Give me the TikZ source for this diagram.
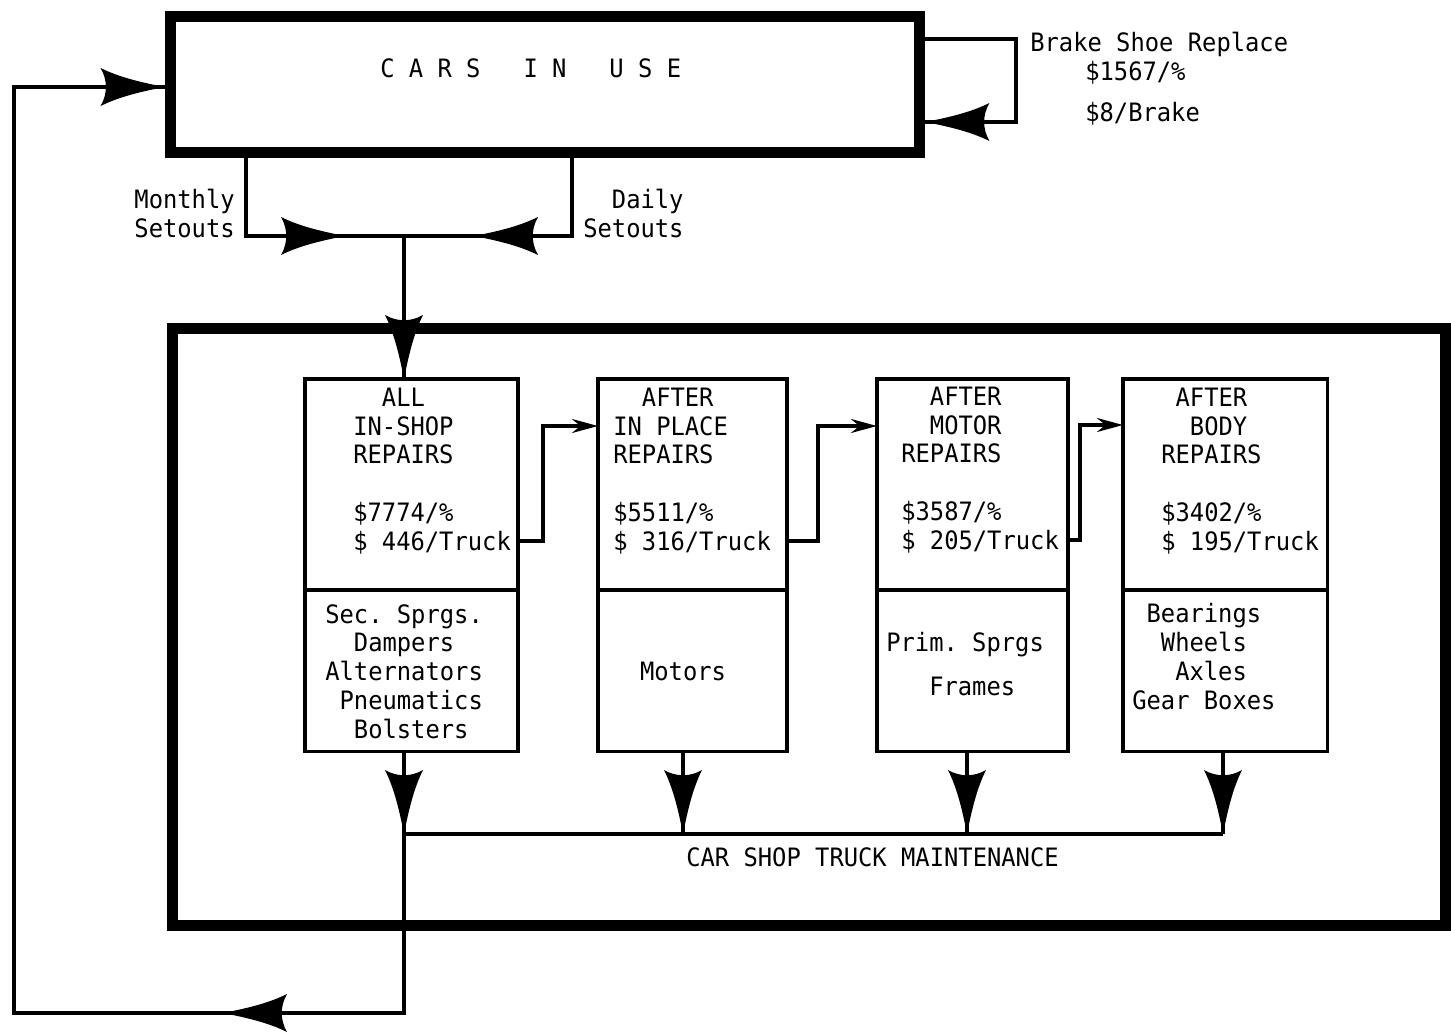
\documentclass[tikz,border=0pt]{standalone}
\usepackage{fontspec}
\setmainfont{DejaVu Sans Mono}[FakeStretch=0.94]
\usetikzlibrary{arrows.meta, positioning, decorations.markings}
\frenchspacing
\newcommand\finhead{\fill (0,0) .. controls (-20,4) and (-44,9) .. (-64,19) .. controls (-57,7) and (-57,-7) .. (-64,-19) .. controls (-44,-9) and (-20,-4) .. cycle;}

\begin{document}
\begin{tikzpicture}[x=0.025cm, y=-0.025cm, font=\fontsize{18pt}{20.4pt}\selectfont,
   >={Stealth[length=0.65cm, width=0.35cm]}, node distance=0pt,
   flow/.style={line width=2.2pt},
   heavy/.style={draw, line width=7.8pt, inner sep=0},
   part/.style={draw, line width=2.2pt, inner sep=0, outer sep=0, minimum height=5.275cm},
   lbl/.style={inner sep=0, anchor=base west, align=left},
   fin/.style={decoration={markings, mark=at position #1 with {\finhead}}, postaction={decorate}}]
\useasboundingbox (0,0) rectangle (1451,1032);
\node[heavy, minimum width=18.74cm, minimum height=3.375cm] (cars) at (545,84.5) {};
\node[heavy, minimum width=31.8cm, minimum height=14.9cm] (shop) at (809,627) {};
\node[lbl] (carstxt) at (380,77) {C~A~R~S~~~I~N~~~U~S~E};
\foreach \n/\x/\w in {b1/411.5/5.325, b2/692.5/4.725, b3/972.5/4.775, b4/1225/5.1} {
  \node[part, minimum width=\w cm] (\n) at (\x,484.5) {};
  \node[part, minimum width=\w cm, minimum height=4.025cm, below=of \n] (\n-low) {};
}
\node[lbl] (b1txt) at (353,550) {~~ALL\\IN-SHOP\\REPAIRS\\~\\\$7774/\%\\\$ 446/Truck};
\node[lbl] (b1list) at (325,738) {Sec. Sprgs.\\~~Dampers\\Alternators\\~Pneumatics\\~~Bolsters};
\node[lbl] (b2txt) at (613,550) {~~AFTER\\IN PLACE\\REPAIRS\\~\\\$5511/\%\\\$ 316/Truck};
\node[lbl, anchor=base] (b2list) at (683,680) {Motors};
\node[lbl] (b3txt) at (901,549) {~~AFTER\\~~MOTOR\\REPAIRS\\~\\\$3587/\%\\\$ 205/Truck};
\node[lbl] (b3list) at (886,695) {Prim. Sprgs\\[3.6mm]~~~Frames};
\node[lbl] (b4txt) at (1161,550) {~AFTER\\~~BODY\\REPAIRS\\~\\\$3402/\%\\\$ 195/Truck};
\node[lbl] (b4list) at (1132,709) {~Bearings\\~~Wheels\\~~~Axles\\Gear Boxes};
\node[lbl, anchor=base east, align=right] (monthly) at (235,237) {Monthly\\Setouts};
\node[lbl] (daily) at (583,237) {~~Daily\\Setouts};
\node[lbl] (brake) at (1030,51) {Brake Shoe Replace};
\node[lbl] (brakecost) at (1085,121) {\$1567/\%\\[0.3cm]\$8/Brake};
\node[lbl] (maint) at (686,866) {CAR SHOP TRUCK MAINTENANCE};
\coordinate (btop) at (1016,39);
\coordinate (bbot) at (1016,122);
\coordinate (sjn) at (404,236);
\coordinate (mtip) at (345,236);
\coordinate (dtip) at (474,236);
\coordinate (mjn) at (404,834);
\coordinate (m2) at (683,834);
\coordinate (m3) at (967,834);
\coordinate (mend) at (1223,834);
\coordinate (rtip) at (223,1013);
\coordinate (rtop) at (14,87);
\draw[flow, fin=1] (cars.east |- btop) -- (btop) -- (bbot) -- (cars.east |- bbot);
\draw[flow, fin=1] (cars.south -| 246,0) |- (mtip);
\draw[flow, fin=1] (cars.south -| 572,0) |- (dtip);
\draw[flow] (mtip) -- (dtip);
\draw[flow, fin=1] (sjn) -- (b1.north -| sjn);
\foreach \a/\b/\j/\y/\z in {b1/b2/25/541/426, b2/b3/31/541/426, b3/b4/12/540/425}
  \draw[flow, ->] (\a.east |- 0,\y) -- ++(\j,0) |- (\b.west |- 0,\z);
\draw[flow] (mjn) -- (mend);
\foreach \b/\m in {b1/mjn, b2/m2, b3/m3, b4/mend}
  \draw[flow, fin=1] (\b-low.south -| \m) -- (\m);
\draw[flow, fin=1] (mjn) |- (rtip);
\draw[flow, fin=1] (rtip) -| (rtop) -- (rtop -| cars.west);
\end{tikzpicture}
\end{document}
